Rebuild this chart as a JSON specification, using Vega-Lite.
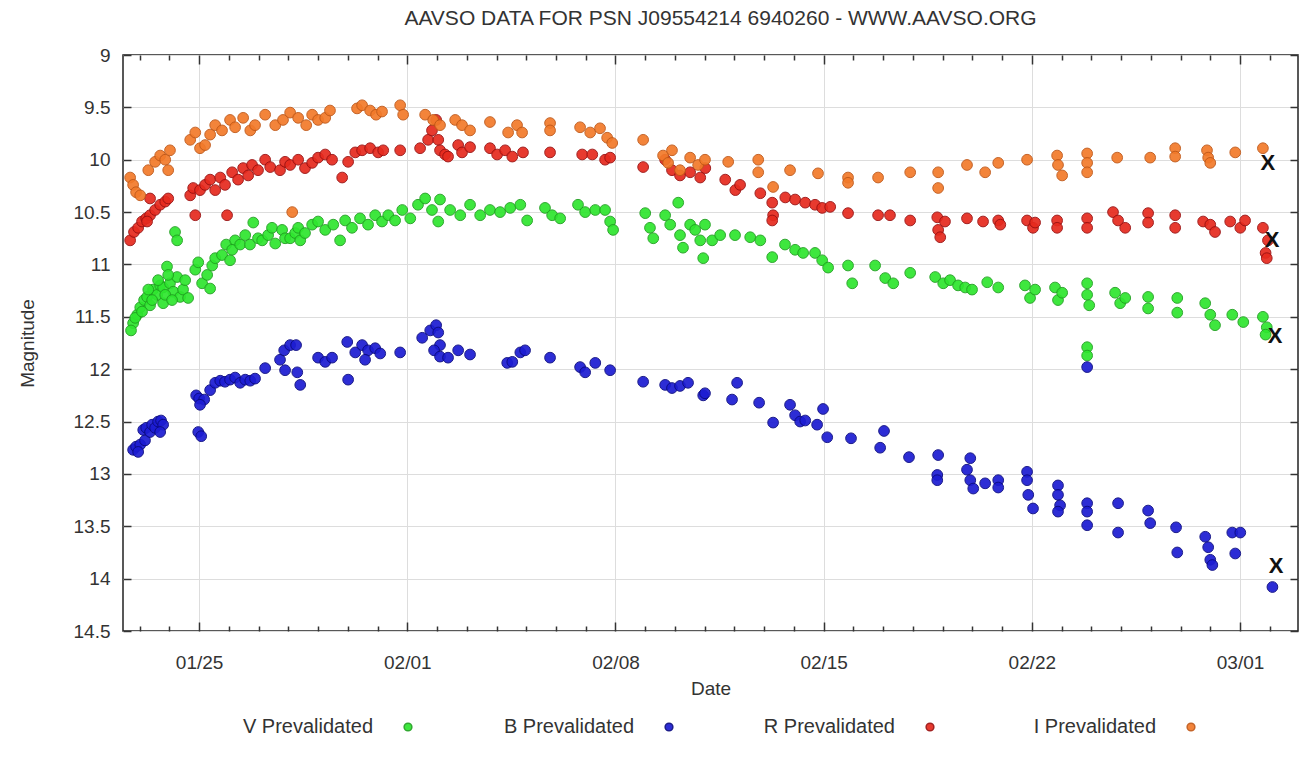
{
"$schema": "https://vega.github.io/schema/vega-lite/v6.json",
"width": 1175, "height": 576,
"autosize": {"type": "none"},
"padding": {"left": 123, "top": 55, "right": 11, "bottom": 152},
"background": "white",
"title": {"text": "AAVSO DATA FOR PSN J09554214 6940260 - WWW.AAVSO.ORG", "font": "Liberation Sans", "fontSize": 21, "fontWeight": "normal", "color": "#333333", "offset": 17, "dx": 10, "anchor": "middle"},
"config": {
  "view": {"stroke": "#222222", "strokeWidth": 1.5},
  "axis": {"labelFont": "Liberation Sans", "titleFont": "Liberation Sans", "labelFontSize": 19, "titleFontSize": 19, "titleFontWeight": "normal", "labelColor": "#333333", "titleColor": "#333333", "tickColor": "#333333", "tickWidth": 1.5, "gridColor": "#dddddd", "gridWidth": 1, "domain": false, "labelOverlap": false, "labelFlush": false}
},
"datasets": {
"obs": [
{"band":"V","day":22.78,"mag":11.56},{"band":"V","day":22.71,"mag":11.63},{"band":"V","day":22.92,"mag":11.48},{"band":"V","day":23.02,"mag":11.41},{"band":"V","day":23.15,"mag":11.34},{"band":"V","day":23.25,"mag":11.31},{"band":"V","day":23.35,"mag":11.39},{"band":"V","day":23.45,"mag":11.24},{"band":"V","day":23.59,"mag":11.29},{"band":"V","day":23.69,"mag":11.20},{"band":"V","day":23.79,"mag":11.22},{"band":"V","day":23.79,"mag":11.37},{"band":"V","day":23.92,"mag":11.02},{"band":"V","day":24.02,"mag":11.18},{"band":"V","day":24.13,"mag":11.26},{"band":"V","day":24.26,"mag":11.12},{"band":"V","day":24.36,"mag":11.31},{"band":"V","day":24.46,"mag":11.24},{"band":"V","day":24.19,"mag":10.69},{"band":"V","day":24.26,"mag":10.77},{"band":"V","day":22.85,"mag":11.51},{"band":"V","day":23.08,"mag":11.45},{"band":"V","day":23.29,"mag":11.24},{"band":"V","day":23.42,"mag":11.34},{"band":"V","day":23.62,"mag":11.15},{"band":"V","day":23.86,"mag":11.29},{"band":"V","day":23.96,"mag":11.10},{"band":"V","day":24.09,"mag":11.34},{"band":"V","day":24.53,"mag":11.15},{"band":"V","day":24.63,"mag":11.32},
{"band":"V","day":24.87,"mag":11.05},{"band":"V","day":24.97,"mag":10.98},{"band":"V","day":25.10,"mag":11.18},{"band":"V","day":25.27,"mag":11.10},{"band":"V","day":25.44,"mag":11.01},{"band":"V","day":25.37,"mag":11.23},{"band":"V","day":25.54,"mag":10.94},{"band":"V","day":25.77,"mag":10.91},{"band":"V","day":25.91,"mag":10.81},{"band":"V","day":26.04,"mag":10.96},{"band":"V","day":26.21,"mag":10.77},{"band":"V","day":26.11,"mag":10.86},{"band":"V","day":26.38,"mag":10.81},{"band":"V","day":26.55,"mag":10.72},{"band":"V","day":26.71,"mag":10.81},{"band":"V","day":26.82,"mag":10.60},{"band":"V","day":26.98,"mag":10.75},{"band":"V","day":27.12,"mag":10.77},{"band":"V","day":27.32,"mag":10.72},{"band":"V","day":27.45,"mag":10.65},{"band":"V","day":27.56,"mag":10.80},{"band":"V","day":27.79,"mag":10.67},{"band":"V","day":27.89,"mag":10.75},{"band":"V","day":28.06,"mag":10.75},{"band":"V","day":28.23,"mag":10.70},{"band":"V","day":28.33,"mag":10.65},{"band":"V","day":28.40,"mag":10.77},{"band":"V","day":28.56,"mag":10.70},{"band":"V","day":28.80,"mag":10.62},{"band":"V","day":29.00,"mag":10.59},{"band":"V","day":29.24,"mag":10.67},{"band":"V","day":29.51,"mag":10.62},{"band":"V","day":29.74,"mag":10.77},{"band":"V","day":29.91,"mag":10.58},{"band":"V","day":30.14,"mag":10.65},{"band":"V","day":30.41,"mag":10.56},{"band":"V","day":30.68,"mag":10.62},{"band":"V","day":30.92,"mag":10.53},{"band":"V","day":31.15,"mag":10.59},{"band":"V","day":31.36,"mag":10.53},{"band":"V","day":31.59,"mag":10.58},{"band":"V","day":31.83,"mag":10.48},{"band":"V","day":32.10,"mag":10.56},{"band":"V","day":32.36,"mag":10.43},{"band":"V","day":32.60,"mag":10.37},{"band":"V","day":32.83,"mag":10.48},{"band":"V","day":33.10,"mag":10.38},{"band":"V","day":33.04,"mag":10.59},{"band":"V","day":33.44,"mag":10.48},{"band":"V","day":33.78,"mag":10.53},{"band":"V","day":34.11,"mag":10.43},{"band":"V","day":34.45,"mag":10.53},{"band":"V","day":34.78,"mag":10.48},{"band":"V","day":35.12,"mag":10.50},{"band":"V","day":35.46,"mag":10.46},{"band":"V","day":35.80,"mag":10.43},{"band":"V","day":36.03,"mag":10.58},{"band":"V","day":36.63,"mag":10.46},{"band":"V","day":36.87,"mag":10.53},{"band":"V","day":37.14,"mag":10.56},{"band":"V","day":37.74,"mag":10.43},{"band":"V","day":37.98,"mag":10.50},{"band":"V","day":38.32,"mag":10.48},{"band":"V","day":38.65,"mag":10.48},{"band":"V","day":38.82,"mag":10.59},{"band":"V","day":38.92,"mag":10.67},{"band":"V","day":40.00,"mag":10.51},{"band":"V","day":40.16,"mag":10.65},{"band":"V","day":40.27,"mag":10.75},{"band":"V","day":40.67,"mag":10.53},{"band":"V","day":40.84,"mag":10.62},{"band":"V","day":41.11,"mag":10.41},{"band":"V","day":41.17,"mag":10.72},{"band":"V","day":41.27,"mag":10.84},{"band":"V","day":41.51,"mag":10.62},{"band":"V","day":41.68,"mag":10.67},{"band":"V","day":41.85,"mag":10.77},{"band":"V","day":42.01,"mag":10.62},{"band":"V","day":41.95,"mag":10.94},{"band":"V","day":42.25,"mag":10.77},{"band":"V","day":42.52,"mag":10.72},{"band":"V","day":43.02,"mag":10.72},{"band":"V","day":43.53,"mag":10.74},{"band":"V","day":43.87,"mag":10.77},{"band":"V","day":44.27,"mag":10.93},{"band":"V","day":44.70,"mag":10.81},{"band":"V","day":45.04,"mag":10.86},{"band":"V","day":45.31,"mag":10.89},{"band":"V","day":45.71,"mag":10.89},{"band":"V","day":45.95,"mag":10.96},{"band":"V","day":46.15,"mag":11.03},{"band":"V","day":46.82,"mag":11.01},{"band":"V","day":46.96,"mag":11.18},{"band":"V","day":47.73,"mag":11.01},{"band":"V","day":48.07,"mag":11.13},{"band":"V","day":48.34,"mag":11.18},{"band":"V","day":48.91,"mag":11.08},{"band":"V","day":49.75,"mag":11.12},{"band":"V","day":50.02,"mag":11.18},{"band":"V","day":50.25,"mag":11.15},{"band":"V","day":50.52,"mag":11.20},{"band":"V","day":50.76,"mag":11.22},{"band":"V","day":50.99,"mag":11.24},{"band":"V","day":51.50,"mag":11.17},{"band":"V","day":51.87,"mag":11.22},{"band":"V","day":52.77,"mag":11.20},{"band":"V","day":52.94,"mag":11.32},{"band":"V","day":53.11,"mag":11.24},{"band":"V","day":53.78,"mag":11.22},{"band":"V","day":53.88,"mag":11.34},{"band":"V","day":54.02,"mag":11.27},{"band":"V","day":54.86,"mag":11.18},{"band":"V","day":54.86,"mag":11.29},{"band":"V","day":54.93,"mag":11.39},{"band":"V","day":54.86,"mag":11.79},{"band":"V","day":54.86,"mag":11.87},{"band":"V","day":55.80,"mag":11.27},{"band":"V","day":55.97,"mag":11.37},{"band":"V","day":56.14,"mag":11.32},{"band":"V","day":56.91,"mag":11.31},{"band":"V","day":56.91,"mag":11.42},{"band":"V","day":57.89,"mag":11.32},{"band":"V","day":57.89,"mag":11.46},{"band":"V","day":58.83,"mag":11.37},{"band":"V","day":59.00,"mag":11.48},{"band":"V","day":59.16,"mag":11.58},{"band":"V","day":59.74,"mag":11.48},{"band":"V","day":60.11,"mag":11.55},{"band":"V","day":60.77,"mag":11.50},{"band":"V","day":60.90,"mag":11.60},{"band":"V","day":60.86,"mag":11.67},
{"band":"B","day":22.78,"mag":12.77},{"band":"B","day":22.88,"mag":12.74},{"band":"B","day":23.02,"mag":12.72},{"band":"B","day":22.95,"mag":12.79},{"band":"B","day":23.12,"mag":12.58},{"band":"B","day":23.22,"mag":12.56},{"band":"B","day":23.18,"mag":12.68},{"band":"B","day":23.35,"mag":12.60},{"band":"B","day":23.42,"mag":12.53},{"band":"B","day":23.52,"mag":12.56},{"band":"B","day":23.62,"mag":12.50},{"band":"B","day":23.72,"mag":12.49},{"band":"B","day":23.79,"mag":12.53},{"band":"B","day":23.69,"mag":12.60},{"band":"B","day":24.90,"mag":12.25},{"band":"B","day":25.00,"mag":12.28},{"band":"B","day":25.17,"mag":12.29},{"band":"B","day":25.03,"mag":12.34},{"band":"B","day":24.97,"mag":12.60},{"band":"B","day":25.07,"mag":12.64},{"band":"B","day":25.37,"mag":12.20},{"band":"B","day":25.54,"mag":12.13},{"band":"B","day":25.71,"mag":12.11},{"band":"B","day":25.87,"mag":12.12},{"band":"B","day":26.04,"mag":12.10},{"band":"B","day":26.21,"mag":12.08},{"band":"B","day":26.38,"mag":12.13},{"band":"B","day":26.55,"mag":12.10},{"band":"B","day":26.72,"mag":12.11},{"band":"B","day":26.88,"mag":12.09},{"band":"B","day":27.22,"mag":11.99},{"band":"B","day":27.72,"mag":11.91},{"band":"B","day":27.86,"mag":11.82},{"band":"B","day":28.06,"mag":11.77},{"band":"B","day":28.26,"mag":11.77},{"band":"B","day":27.89,"mag":12.01},{"band":"B","day":28.30,"mag":12.03},{"band":"B","day":28.40,"mag":12.15},{"band":"B","day":29.00,"mag":11.89},{"band":"B","day":29.24,"mag":11.93},{"band":"B","day":29.47,"mag":11.89},{"band":"B","day":29.98,"mag":11.74},{"band":"B","day":30.01,"mag":12.10},{"band":"B","day":30.25,"mag":11.84},{"band":"B","day":30.48,"mag":11.77},{"band":"B","day":30.68,"mag":11.82},{"band":"B","day":30.92,"mag":11.80},{"band":"B","day":31.09,"mag":11.85},{"band":"B","day":30.58,"mag":11.91},{"band":"B","day":31.76,"mag":11.84},{"band":"B","day":32.50,"mag":11.70},{"band":"B","day":32.77,"mag":11.63},{"band":"B","day":32.97,"mag":11.58},{"band":"B","day":33.04,"mag":11.65},{"band":"B","day":33.10,"mag":11.77},{"band":"B","day":32.90,"mag":11.82},{"band":"B","day":33.10,"mag":11.88},{"band":"B","day":33.37,"mag":11.89},{"band":"B","day":33.71,"mag":11.82},{"band":"B","day":34.11,"mag":11.86},{"band":"B","day":35.36,"mag":11.94},{"band":"B","day":35.53,"mag":11.93},{"band":"B","day":35.80,"mag":11.84},{"band":"B","day":35.96,"mag":11.82},{"band":"B","day":36.80,"mag":11.89},{"band":"B","day":37.81,"mag":11.98},{"band":"B","day":37.98,"mag":12.03},{"band":"B","day":38.32,"mag":11.94},{"band":"B","day":38.82,"mag":12.01},{"band":"B","day":39.93,"mag":12.12},{"band":"B","day":40.67,"mag":12.15},{"band":"B","day":40.90,"mag":12.18},{"band":"B","day":41.17,"mag":12.16},{"band":"B","day":41.44,"mag":12.13},{"band":"B","day":41.95,"mag":12.25},{"band":"B","day":42.01,"mag":12.23},{"band":"B","day":43.09,"mag":12.13},{"band":"B","day":42.92,"mag":12.29},{"band":"B","day":43.83,"mag":12.32},{"band":"B","day":44.30,"mag":12.51},{"band":"B","day":44.87,"mag":12.34},{"band":"B","day":45.04,"mag":12.44},{"band":"B","day":45.21,"mag":12.50},{"band":"B","day":45.38,"mag":12.49},{"band":"B","day":45.98,"mag":12.38},{"band":"B","day":45.78,"mag":12.53},{"band":"B","day":46.12,"mag":12.65},{"band":"B","day":46.92,"mag":12.66},{"band":"B","day":47.90,"mag":12.75},{"band":"B","day":48.03,"mag":12.59},{"band":"B","day":48.87,"mag":12.84},{"band":"B","day":49.85,"mag":12.82},{"band":"B","day":49.82,"mag":13.01},{"band":"B","day":49.82,"mag":13.06},{"band":"B","day":50.93,"mag":12.85},{"band":"B","day":50.82,"mag":12.96},{"band":"B","day":50.93,"mag":13.06},{"band":"B","day":51.03,"mag":13.14},{"band":"B","day":51.43,"mag":13.09},{"band":"B","day":51.87,"mag":13.06},{"band":"B","day":51.87,"mag":13.13},{"band":"B","day":52.84,"mag":12.98},{"band":"B","day":52.84,"mag":13.06},{"band":"B","day":52.88,"mag":13.20},{"band":"B","day":53.04,"mag":13.33},{"band":"B","day":53.88,"mag":13.11},{"band":"B","day":53.88,"mag":13.20},{"band":"B","day":53.95,"mag":13.30},{"band":"B","day":53.88,"mag":13.36},{"band":"B","day":54.86,"mag":13.28},{"band":"B","day":54.86,"mag":13.36},{"band":"B","day":54.86,"mag":13.49},{"band":"B","day":54.86,"mag":11.98},{"band":"B","day":55.90,"mag":13.28},{"band":"B","day":55.90,"mag":13.56},{"band":"B","day":56.91,"mag":13.35},{"band":"B","day":56.98,"mag":13.47},{"band":"B","day":57.85,"mag":13.51},{"band":"B","day":57.89,"mag":13.75},{"band":"B","day":58.83,"mag":13.60},{"band":"B","day":58.93,"mag":13.70},{"band":"B","day":59.00,"mag":13.82},{"band":"B","day":59.07,"mag":13.87},{"band":"B","day":59.74,"mag":13.56},{"band":"B","day":60.01,"mag":13.56},{"band":"B","day":59.84,"mag":13.76},{"band":"B","day":61.09,"mag":14.08},
{"band":"R","day":22.68,"mag":10.77},{"band":"R","day":22.81,"mag":10.69},{"band":"R","day":22.95,"mag":10.65},{"band":"R","day":23.08,"mag":10.59},{"band":"R","day":23.22,"mag":10.56},{"band":"R","day":23.35,"mag":10.53},{"band":"R","day":23.52,"mag":10.48},{"band":"R","day":23.69,"mag":10.43},{"band":"R","day":23.86,"mag":10.40},{"band":"R","day":23.96,"mag":10.37},{"band":"R","day":23.35,"mag":10.37},{"band":"R","day":23.25,"mag":10.59},{"band":"R","day":24.87,"mag":10.53},{"band":"R","day":25.94,"mag":10.53},{"band":"R","day":24.70,"mag":10.34},{"band":"R","day":24.80,"mag":10.27},{"band":"R","day":25.03,"mag":10.29},{"band":"R","day":25.20,"mag":10.24},{"band":"R","day":25.37,"mag":10.19},{"band":"R","day":25.54,"mag":10.29},{"band":"R","day":25.71,"mag":10.17},{"band":"R","day":25.87,"mag":10.24},{"band":"R","day":26.11,"mag":10.12},{"band":"R","day":26.31,"mag":10.19},{"band":"R","day":26.48,"mag":10.08},{"band":"R","day":26.65,"mag":10.15},{"band":"R","day":26.78,"mag":10.05},{"band":"R","day":26.98,"mag":10.10},{"band":"R","day":27.22,"mag":10.00},{"band":"R","day":27.39,"mag":10.07},{"band":"R","day":27.72,"mag":10.10},{"band":"R","day":27.89,"mag":10.02},{"band":"R","day":28.06,"mag":10.05},{"band":"R","day":28.33,"mag":10.00},{"band":"R","day":28.56,"mag":10.08},{"band":"R","day":28.80,"mag":10.03},{"band":"R","day":29.00,"mag":9.98},{"band":"R","day":29.24,"mag":9.95},{"band":"R","day":29.47,"mag":10.00},{"band":"R","day":30.01,"mag":10.02},{"band":"R","day":29.81,"mag":10.17},{"band":"R","day":30.25,"mag":9.93},{"band":"R","day":30.48,"mag":9.91},{"band":"R","day":30.75,"mag":9.89},{"band":"R","day":31.02,"mag":9.93},{"band":"R","day":31.19,"mag":9.91},{"band":"R","day":31.76,"mag":9.91},{"band":"R","day":32.43,"mag":9.89},{"band":"R","day":32.70,"mag":9.81},{"band":"R","day":32.83,"mag":9.72},{"band":"R","day":32.97,"mag":9.62},{"band":"R","day":33.04,"mag":9.81},{"band":"R","day":33.10,"mag":9.91},{"band":"R","day":33.27,"mag":9.95},{"band":"R","day":33.37,"mag":9.97},{"band":"R","day":33.71,"mag":9.86},{"band":"R","day":33.84,"mag":9.93},{"band":"R","day":34.11,"mag":9.88},{"band":"R","day":34.78,"mag":9.89},{"band":"R","day":35.02,"mag":9.95},{"band":"R","day":35.29,"mag":9.91},{"band":"R","day":35.53,"mag":9.97},{"band":"R","day":35.89,"mag":9.93},{"band":"R","day":36.80,"mag":9.93},{"band":"R","day":37.88,"mag":9.95},{"band":"R","day":38.22,"mag":9.95},{"band":"R","day":38.65,"mag":10.00},{"band":"R","day":38.82,"mag":9.98},{"band":"R","day":39.93,"mag":10.07},{"band":"R","day":40.67,"mag":10.00},{"band":"R","day":40.90,"mag":10.10},{"band":"R","day":41.17,"mag":10.15},{"band":"R","day":41.51,"mag":10.12},{"band":"R","day":41.85,"mag":10.17},{"band":"R","day":42.02,"mag":10.08},{"band":"R","day":42.69,"mag":10.19},{"band":"R","day":43.03,"mag":10.29},{"band":"R","day":43.19,"mag":10.24},{"band":"R","day":43.87,"mag":10.32},{"band":"R","day":44.27,"mag":10.41},{"band":"R","day":44.30,"mag":10.53},{"band":"R","day":44.27,"mag":10.58},{"band":"R","day":44.71,"mag":10.36},{"band":"R","day":45.04,"mag":10.38},{"band":"R","day":45.38,"mag":10.41},{"band":"R","day":45.71,"mag":10.43},{"band":"R","day":45.95,"mag":10.46},{"band":"R","day":46.22,"mag":10.45},{"band":"R","day":46.82,"mag":10.51},{"band":"R","day":47.83,"mag":10.53},{"band":"R","day":48.23,"mag":10.53},{"band":"R","day":48.91,"mag":10.58},{"band":"R","day":49.82,"mag":10.55},{"band":"R","day":50.08,"mag":10.59},{"band":"R","day":49.85,"mag":10.67},{"band":"R","day":49.92,"mag":10.74},{"band":"R","day":50.82,"mag":10.56},{"band":"R","day":51.36,"mag":10.59},{"band":"R","day":51.87,"mag":10.58},{"band":"R","day":51.94,"mag":10.62},{"band":"R","day":52.84,"mag":10.58},{"band":"R","day":53.04,"mag":10.65},{"band":"R","day":53.11,"mag":10.60},{"band":"R","day":53.85,"mag":10.58},{"band":"R","day":53.85,"mag":10.65},{"band":"R","day":54.86,"mag":10.56},{"band":"R","day":54.86,"mag":10.65},{"band":"R","day":55.73,"mag":10.50},{"band":"R","day":55.90,"mag":10.58},{"band":"R","day":56.14,"mag":10.65},{"band":"R","day":56.91,"mag":10.51},{"band":"R","day":56.91,"mag":10.60},{"band":"R","day":57.82,"mag":10.53},{"band":"R","day":57.82,"mag":10.65},{"band":"R","day":58.76,"mag":10.59},{"band":"R","day":59.00,"mag":10.62},{"band":"R","day":59.16,"mag":10.69},{"band":"R","day":59.67,"mag":10.59},{"band":"R","day":60.01,"mag":10.65},{"band":"R","day":60.17,"mag":10.58},{"band":"R","day":60.77,"mag":10.65},{"band":"R","day":60.94,"mag":10.77},{"band":"R","day":60.86,"mag":10.89},{"band":"R","day":60.90,"mag":10.94},
{"band":"I","day":22.68,"mag":10.17},{"band":"I","day":22.78,"mag":10.24},{"band":"I","day":22.88,"mag":10.31},{"band":"I","day":23.02,"mag":10.34},{"band":"I","day":23.29,"mag":10.10},{"band":"I","day":23.52,"mag":10.02},{"band":"I","day":23.69,"mag":9.96},{"band":"I","day":23.86,"mag":10.00},{"band":"I","day":24.02,"mag":9.91},{"band":"I","day":23.96,"mag":10.10},{"band":"I","day":24.70,"mag":9.81},{"band":"I","day":24.87,"mag":9.74},{"band":"I","day":25.03,"mag":9.89},{"band":"I","day":25.20,"mag":9.86},{"band":"I","day":25.37,"mag":9.76},{"band":"I","day":25.54,"mag":9.67},{"band":"I","day":25.77,"mag":9.72},{"band":"I","day":26.04,"mag":9.62},{"band":"I","day":26.21,"mag":9.69},{"band":"I","day":26.48,"mag":9.60},{"band":"I","day":26.72,"mag":9.72},{"band":"I","day":26.88,"mag":9.67},{"band":"I","day":27.22,"mag":9.57},{"band":"I","day":27.56,"mag":9.67},{"band":"I","day":27.82,"mag":9.62},{"band":"I","day":28.06,"mag":9.55},{"band":"I","day":28.33,"mag":9.60},{"band":"I","day":28.60,"mag":9.67},{"band":"I","day":28.80,"mag":9.57},{"band":"I","day":29.00,"mag":9.62},{"band":"I","day":29.24,"mag":9.60},{"band":"I","day":29.40,"mag":9.53},{"band":"I","day":30.31,"mag":9.51},{"band":"I","day":30.48,"mag":9.48},{"band":"I","day":30.75,"mag":9.53},{"band":"I","day":30.95,"mag":9.57},{"band":"I","day":31.15,"mag":9.54},{"band":"I","day":31.76,"mag":9.48},{"band":"I","day":31.86,"mag":9.57},{"band":"I","day":32.60,"mag":9.57},{"band":"I","day":32.87,"mag":9.62},{"band":"I","day":33.10,"mag":9.67},{"band":"I","day":33.61,"mag":9.62},{"band":"I","day":33.84,"mag":9.67},{"band":"I","day":34.11,"mag":9.72},{"band":"I","day":34.78,"mag":9.64},{"band":"I","day":35.39,"mag":9.74},{"band":"I","day":35.69,"mag":9.67},{"band":"I","day":35.86,"mag":9.74},{"band":"I","day":36.80,"mag":9.65},{"band":"I","day":36.80,"mag":9.72},{"band":"I","day":37.81,"mag":9.69},{"band":"I","day":38.15,"mag":9.74},{"band":"I","day":38.48,"mag":9.70},{"band":"I","day":38.72,"mag":9.79},{"band":"I","day":38.89,"mag":9.84},{"band":"I","day":39.93,"mag":9.81},{"band":"I","day":40.60,"mag":9.96},{"band":"I","day":40.77,"mag":10.03},{"band":"I","day":40.90,"mag":9.91},{"band":"I","day":41.17,"mag":10.10},{"band":"I","day":41.51,"mag":9.98},{"band":"I","day":41.78,"mag":10.05},{"band":"I","day":42.01,"mag":10.00},{"band":"I","day":42.79,"mag":10.02},{"band":"I","day":43.80,"mag":10.00},{"band":"I","day":43.80,"mag":10.12},{"band":"I","day":44.30,"mag":10.26},{"band":"I","day":44.87,"mag":10.10},{"band":"I","day":45.81,"mag":10.13},{"band":"I","day":46.82,"mag":10.17},{"band":"I","day":46.82,"mag":10.22},{"band":"I","day":47.83,"mag":10.17},{"band":"I","day":48.91,"mag":10.12},{"band":"I","day":49.85,"mag":10.12},{"band":"I","day":49.85,"mag":10.27},{"band":"I","day":50.82,"mag":10.05},{"band":"I","day":51.43,"mag":10.12},{"band":"I","day":51.87,"mag":10.03},{"band":"I","day":52.84,"mag":10.00},{"band":"I","day":53.85,"mag":9.96},{"band":"I","day":53.88,"mag":10.05},{"band":"I","day":54.02,"mag":10.15},{"band":"I","day":54.86,"mag":9.94},{"band":"I","day":54.86,"mag":10.03},{"band":"I","day":54.86,"mag":10.12},{"band":"I","day":55.87,"mag":9.98},{"band":"I","day":56.98,"mag":9.98},{"band":"I","day":57.82,"mag":9.89},{"band":"I","day":57.82,"mag":9.97},{"band":"I","day":58.89,"mag":9.91},{"band":"I","day":58.93,"mag":9.98},{"band":"I","day":59.00,"mag":10.03},{"band":"I","day":59.84,"mag":9.93},{"band":"I","day":60.77,"mag":9.89},{"band":"I","day":28.13,"mag":10.50}
],
"xmarks": [
{"band":"I","day":60.94,"mag":10.03},{"band":"R","day":61.08,"mag":10.77},{"band":"V","day":61.18,"mag":11.68},{"band":"B","day":61.21,"mag":13.88}
]
},
"layer": [
{
  "data": {"name": "obs"},
  "mark": {"type": "point", "filled": true, "shape": "circle", "size": 115, "opacity": 0.92, "strokeWidth": 1},
  "encoding": {
    "x": {"field": "day", "type": "quantitative", "title": "Date",
      "scale": {"domain": [22.44, 61.95], "nice": false, "zero": false},
      "axis": {"orient": "bottom", "values": [23,24,25,26,27,28,29,30,31,32,33,34,35,36,37,38,39,40,41,42,43,44,45,46,47,48,49,50,51,52,53,54,55,56,57,58,59,60,61],
        "labelExpr": "datum.value==25?'01/25':datum.value==32?'02/01':datum.value==39?'02/08':datum.value==46?'02/15':datum.value==53?'02/22':datum.value==60?'03/01':''",
        "tickSize": {"condition": {"test": "(datum.value-25)%7==0", "value": -9}, "value": -5},
        "gridOpacity": {"condition": {"test": "(datum.value-25)%7==0", "value": 1}, "value": 0},
        "labelPadding": 31, "titlePadding": 3}},
    "y": {"field": "mag", "type": "quantitative", "title": "Magnitude",
      "scale": {"domain": [9, 14.5], "reverse": true, "nice": false, "zero": false},
      "axis": {"orient": "left", "values": [9,9.5,10,10.5,11,11.5,12,12.5,13,13.5,14,14.5], "labelExpr": "'' + datum.value", "tickSize": -8, "labelPadding": 21, "titlePadding": 36}},
    "color": {"field": "band", "type": "nominal",
      "scale": {"domain": ["V","B","R","I"], "range": ["#2ee62e","#1c1cd2","#e62a1e","#f27a2a"]},
      "legend": {"title": null, "orient": "none", "legendX": 275, "legendY": 662, "direction": "horizontal", "columns": 4, "labelExpr": "datum.label + ' Prevalidated'", "labelAlign": "right", "labelOffset": -45, "labelFont": "Liberation Sans", "labelFontSize": 20, "labelColor": "#333333", "labelLimit": 300, "symbolType": "circle", "symbolSize": 60, "columnPadding": 87, "gridAlign": "all"}},
    "stroke": {"field": "band", "type": "nominal",
      "scale": {"domain": ["V","B","R","I"], "range": ["#20a020","#0a0a80","#9a1010","#c05818"]},
      "legend": null}
  }
},
{
  "data": {"name": "xmarks"},
  "mark": {"type": "text", "text": "X", "font": "Liberation Sans", "fontSize": 22, "fontWeight": "bold", "color": "#111111", "align": "center", "baseline": "middle"},
  "encoding": {
    "x": {"field": "day", "type": "quantitative",
      "scale": {"domain": [22.44, 61.95], "nice": false, "zero": false},
      "axis": {"orient": "top", "title": null, "labels": false, "grid": false, "values": [23,24,25,26,27,28,29,30,31,32,33,34,35,36,37,38,39,40,41,42,43,44,45,46,47,48,49,50,51,52,53,54,55,56,57,58,59,60,61],
        "tickSize": {"condition": {"test": "(datum.value-25)%7==0", "value": -9}, "value": -5}}},
    "y": {"field": "mag", "type": "quantitative",
      "scale": {"domain": [9, 14.5], "reverse": true, "nice": false, "zero": false},
      "axis": {"orient": "right", "title": null, "labels": false, "grid": false, "values": [9,9.5,10,10.5,11,11.5,12,12.5,13,13.5,14,14.5], "tickSize": -8}}
  }
}
],
"resolve": {"axis": {"x": "independent", "y": "independent"}}
}
